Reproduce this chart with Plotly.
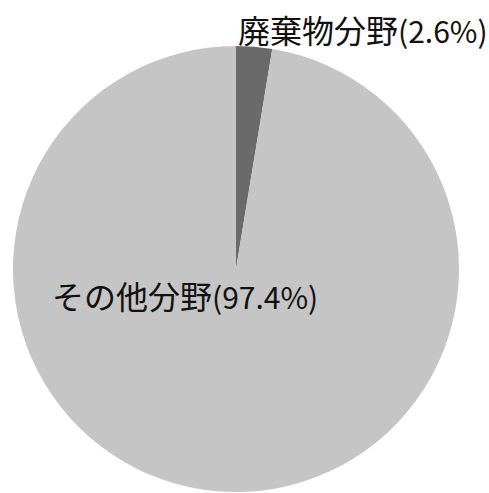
import plotly.graph_objects as go

# Share of emissions by sector
categories = ["廃棄物分野", "その他分野"]
shares = [2.6, 97.4]
colors = ["#6a6a6a", "#c5c5c5"]

W, H = 489, 493

fig = go.Figure(
    go.Pie(
        labels=categories,
        values=shares,
        sort=False,
        direction="clockwise",
        rotation=0,
        marker=dict(colors=colors, line=dict(width=0)),
        textinfo="none",
        hoverinfo="label+percent",
        showlegend=False,
        domain=dict(x=[13 / W, 459 / W], y=[1 / H, 447 / H]),
    )
)

label_font = dict(family="Noto Sans CJK JP", size=32, color="#111111")


def sector_label(name, pct):
    # Percentage part is set slightly smaller than the sector name
    return f"{name}<span style='font-size:30px'>({pct}%)</span>"


fig.add_annotation(
    x=236 / W, y=1 - 29 / H, xref="paper", yref="paper",
    xanchor="left", yanchor="middle", showarrow=False,
    text=sector_label(categories[0], shares[0]), font=label_font,
)
fig.add_annotation(
    x=50 / W, y=1 - 295 / H, xref="paper", yref="paper",
    xanchor="left", yanchor="middle", showarrow=False,
    text=sector_label(categories[1], shares[1]), font=label_font,
)

fig.update_layout(
    width=W, height=H,
    margin=dict(l=0, r=0, t=0, b=0),
    paper_bgcolor="white",
    plot_bgcolor="white",
)

fig.write_html("out.html")
